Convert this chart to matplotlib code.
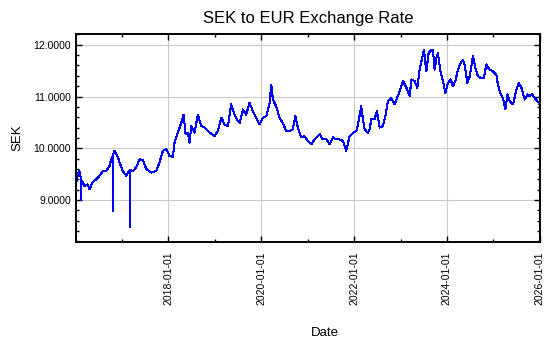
import pandas as pd
import matplotlib.pyplot as plt
import matplotlib.dates as mdates
from matplotlib.ticker import FormatStrFormatter, MultipleLocator

plt.rcParams["font.family"] = ["Liberation Sans", "DejaVu Sans"]

# SEK per EUR, read at roughly 2-4 week spacing plus the two single-day drops
dates = [
    "2016-01-04", "2016-01-20", "2016-02-01", "2016-02-14", "2016-02-15", "2016-02-16",
    "2016-02-25", "2016-03-12", "2016-04-04", "2016-04-20", "2016-05-16", "2016-06-12",
    "2016-07-08", "2016-08-03", "2016-08-30", "2016-09-25", "2016-10-08", "2016-10-21",
    "2016-10-22", "2016-10-23", "2016-11-03", "2016-11-29", "2016-12-12", "2017-01-07",
    "2017-02-03", "2017-03-02", "2017-03-03", "2017-03-04", "2017-03-27", "2017-04-23",
    "2017-05-19", "2017-06-14", "2017-07-10", "2017-08-19", "2017-09-27", "2017-10-23",
    "2017-11-18", "2017-12-15", "2018-01-10", "2018-02-05", "2018-02-18", "2018-03-16",
    "2018-04-12", "2018-04-30", "2018-05-16", "2018-06-03", "2018-06-16", "2018-06-30",
    "2018-07-26", "2018-08-20", "2018-09-16", "2018-10-12", "2018-11-21", "2018-12-30",
    "2019-01-25", "2019-02-21", "2019-03-19", "2019-04-14", "2019-05-10", "2019-06-05",
    "2019-07-01", "2019-07-15", "2019-08-10", "2019-09-05", "2019-10-01", "2019-10-27",
    "2019-11-23", "2019-12-19", "2020-01-14", "2020-02-10", "2020-03-07", "2020-03-20",
    "2020-04-02", "2020-04-28", "2020-05-24", "2020-06-19", "2020-07-16", "2020-08-11",
    "2020-09-06", "2020-09-25", "2020-10-15", "2020-11-11", "2020-12-07", "2021-01-02",
    "2021-01-29", "2021-02-24", "2021-04-04", "2021-04-30", "2021-05-27", "2021-06-22",
    "2021-07-18", "2021-08-14", "2021-09-09", "2021-10-05", "2021-10-31", "2021-11-26",
    "2021-12-23", "2022-01-18", "2022-01-31", "2022-02-26", "2022-03-11", "2022-03-24",
    "2022-04-19", "2022-05-03", "2022-05-16", "2022-06-11", "2022-06-29", "2022-07-21",
    "2022-08-16", "2022-09-06", "2022-09-24", "2022-10-21", "2022-11-16", "2022-11-29",
    "2022-12-25", "2023-01-20", "2023-02-16", "2023-03-14", "2023-03-27", "2023-04-22",
    "2023-05-13", "2023-05-31", "2023-06-14", "2023-07-04", "2023-07-23", "2023-08-10",
    "2023-08-31", "2023-09-13", "2023-09-26", "2023-10-10", "2023-10-22", "2023-11-13",
    "2023-12-01", "2023-12-20", "2024-01-09", "2024-01-30", "2024-02-17", "2024-03-07",
    "2024-03-28", "2024-04-18", "2024-05-06", "2024-05-19", "2024-06-10", "2024-06-28",
    "2024-07-24", "2024-08-12", "2024-09-01", "2024-09-22", "2024-10-18", "2024-11-06",
    "2024-12-02", "2024-12-28", "2025-01-24", "2025-02-05", "2025-02-27", "2025-03-17",
    "2025-04-05", "2025-04-21", "2025-05-09", "2025-06-04", "2025-07-01", "2025-07-19",
    "2025-08-09", "2025-09-04", "2025-09-25", "2025-10-13", "2025-10-31", "2025-11-22",
    "2025-12-13", "2025-12-31",
]
rates = [
    9.30, 9.50, 9.56, 9.40, 9.00, 9.38,
    9.35, 9.27, 9.30, 9.21, 9.35, 9.40,
    9.47, 9.56, 9.56, 9.66, 9.79, 9.85,
    8.79, 9.88, 9.95, 9.83, 9.73, 9.56,
    9.47, 9.58, 8.47, 9.58, 9.56, 9.63,
    9.79, 9.77, 9.60, 9.53, 9.56, 9.73,
    9.95, 9.98, 9.85, 9.83, 10.11, 10.30,
    10.49, 10.65, 10.27, 10.30, 10.11, 10.43,
    10.30, 10.65, 10.43, 10.40, 10.30, 10.24,
    10.33, 10.59, 10.46, 10.43, 10.85, 10.65,
    10.53, 10.49, 10.75, 10.65, 10.88, 10.72,
    10.59, 10.46, 10.59, 10.62, 10.88, 11.23,
    10.94, 10.81, 10.59, 10.49, 10.33, 10.33,
    10.37, 10.62, 10.40, 10.21, 10.23, 10.14,
    10.08, 10.17, 10.27, 10.17, 10.17, 10.08,
    10.21, 10.17, 10.17, 10.14, 9.95, 10.23,
    10.30, 10.33, 10.46, 10.81, 10.56, 10.37,
    10.30, 10.37, 10.56, 10.56, 10.72, 10.40,
    10.43, 10.65, 10.91, 10.97, 10.85, 10.94,
    11.10, 11.30, 11.17, 11.01, 11.33, 11.30,
    11.17, 11.52, 11.68, 11.90, 11.49, 11.84,
    11.90, 11.90, 11.52, 11.74, 11.84, 11.46,
    11.30, 11.07, 11.26, 11.33, 11.20, 11.30,
    11.52, 11.65, 11.71, 11.62, 11.26, 11.39,
    11.78, 11.55, 11.39, 11.36, 11.36, 11.62,
    11.52, 11.49, 11.42, 11.23, 11.04, 10.97,
    10.75, 11.04, 10.91, 10.85, 11.13, 11.26,
    11.17, 10.94, 11.04, 11.01, 11.04, 10.97,
    10.91, 10.85,
]

df = pd.DataFrame({"Date": pd.to_datetime(dates), "SEK": rates})

fig = plt.figure(figsize=(5.5, 3.5), dpi=100)
ax = fig.add_axes([0.138, 0.309, 0.844, 0.594])

ax.plot(df["Date"], df["SEK"], color="#0000ff", linewidth=0.75, antialiased=False)

ax.set_xlim(df["Date"].iloc[0], pd.Timestamp("2026-01-03"))
ax.set_ylim(8.19, 12.21)

ax.xaxis.set_major_locator(mdates.YearLocator(2))
ax.xaxis.set_minor_locator(mdates.YearLocator(1))
ax.xaxis.set_major_formatter(mdates.DateFormatter("%Y-%m-%d"))
ax.yaxis.set_major_locator(MultipleLocator(1.0))
ax.yaxis.set_minor_locator(MultipleLocator(0.2))
ax.yaxis.set_major_formatter(FormatStrFormatter("%.4f"))

ax.tick_params(which="both", direction="in", top=True, right=True, labelsize=7.5)
ax.tick_params(which="major", length=4.5, width=1)
ax.tick_params(which="minor", length=2.5, width=1)
ax.tick_params(axis="x", which="major", pad=7)
plt.setp(ax.get_xticklabels(), rotation=90)

for s in ax.spines.values():
    s.set_linewidth(1.4)

ax.grid(True, which="major", color="#c8ccc8", linewidth=0.8)
ax.set_axisbelow(True)

ax.set_title("SEK to EUR Exchange Rate", fontsize=12, pad=8)
ax.set_xlabel("Date", fontsize=9.5)
ax.set_ylabel("SEK", fontsize=9.5)
ax.xaxis.set_label_coords(0.537, -0.41)
ax.yaxis.set_label_coords(-0.112, 0.5)

fig.savefig("out.png", dpi=100)
